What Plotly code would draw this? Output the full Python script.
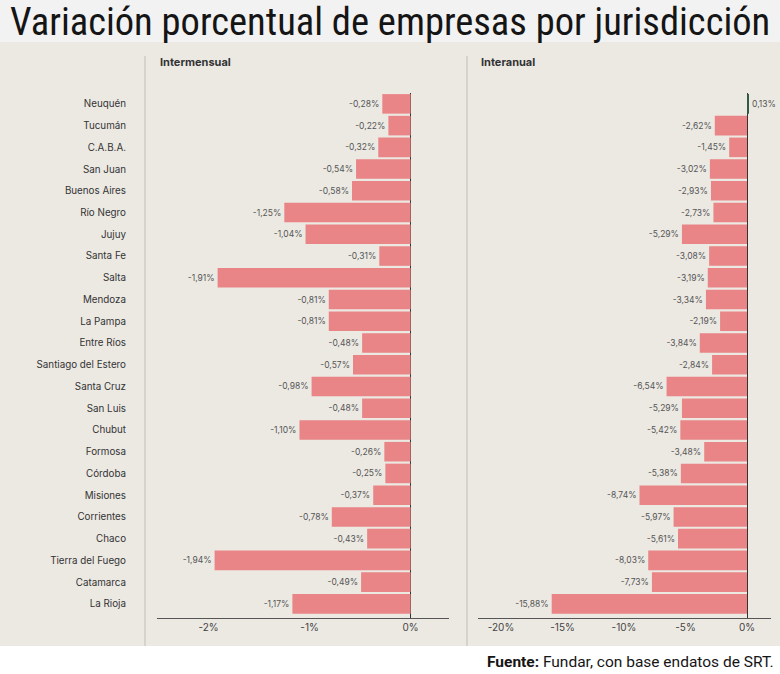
import plotly.graph_objects as go

# Datos
jurisdicciones = ["Neuquén", "Tucumán", "C.A.B.A.", "San Juan", "Buenos Aires", "Río Negro",
                  "Jujuy", "Santa Fe", "Salta", "Mendoza", "La Pampa", "Entre Ríos",
                  "Santiago del Estero", "Santa Cruz", "San Luis", "Chubut", "Formosa",
                  "Córdoba", "Misiones", "Corrientes", "Chaco", "Tierra del Fuego",
                  "Catamarca", "La Rioja"]
intermensual = [-0.28, -0.22, -0.32, -0.54, -0.58, -1.25, -1.04, -0.31, -1.91, -0.81, -0.81, -0.48,
                -0.57, -0.98, -0.48, -1.10, -0.26, -0.25, -0.37, -0.78, -0.43, -1.94, -0.49, -1.17]
interanual = [0.13, -2.62, -1.45, -3.02, -2.93, -2.73, -5.29, -3.08, -3.19, -3.34, -2.19, -3.84,
              -2.84, -6.54, -5.29, -5.42, -3.48, -5.38, -8.74, -5.97, -5.61, -8.03, -7.73, -15.88]
ticks_mensual = [-2, -1, 0]
ticks_anual = [-20, -15, -10, -5, 0]

W, H = 780, 674
ROSA = "#e98587"
VERDE = "#2f5a47"
FONDO = "#ece9e3"
FUENTE = "Inter, Roboto, sans-serif"
ESTRECHA = "Liberation Sans Narrow, Roboto Condensed, Arial Narrow, sans-serif"


def px_x(p):
    return p / W


def px_y(p):
    return 1 - p / H


def etiqueta(v):
    return f"{v:.2f}".replace(".", ",") + "%"


idx = list(range(len(jurisdicciones)))

fig = go.Figure()
for vals, xa, ya in [(intermensual, "x", "y"), (interanual, "x2", "y2")]:
    fig.add_trace(go.Bar(
        x=vals, y=idx, orientation="h", xaxis=xa, yaxis=ya,
        marker=dict(color=[ROSA if v < 0 else VERDE for v in vals], line=dict(width=0)),
        text=[etiqueta(v) for v in vals], textposition="outside",
        textfont=dict(size=8.5, color="#555", family=FUENTE),
        cliponaxis=False, showlegend=False, hoverinfo="skip",
    ))

ydom = [px_y(618), px_y(93)]
yrange = [23.65, -0.5]

fig.update_layout(
    width=W, height=H,
    margin=dict(l=0, r=0, t=0, b=0),
    paper_bgcolor="white", plot_bgcolor=FONDO,
    bargap=0.1,
    font=dict(family=FUENTE, color="#333"),
    xaxis=dict(domain=[px_x(157), px_x(449)], range=[-2.51, 0.38],
               tickvals=ticks_mensual, ticktext=[f"{t}%" for t in ticks_mensual],
               showgrid=False, showline=True, linecolor="#555", linewidth=1.2,
               zeroline=True, zerolinecolor="#333", zerolinewidth=1,
               ticks="", tickfont=dict(size=10, color="#444"), anchor="y", layer="above traces"),
    yaxis=dict(domain=ydom, range=yrange, tickvals=idx, ticktext=jurisdicciones,
               showgrid=False, zeroline=False, ticks="", ticklabelstandoff=30,
               tickfont=dict(size=9.8, color="#333"), anchor="x"),
    xaxis2=dict(domain=[px_x(478), px_x(771)], range=[-21.87, 1.95],
                tickvals=ticks_anual, ticktext=[f"{t}%" for t in ticks_anual],
                showgrid=False, showline=True, linecolor="#555", linewidth=1.2,
                zeroline=True, zerolinecolor="#333", zerolinewidth=1,
                ticks="", tickfont=dict(size=10, color="#444"), anchor="y2", layer="above traces"),
    yaxis2=dict(domain=ydom, range=yrange, showticklabels=False,
                showgrid=False, zeroline=False, anchor="x2"),
)

fig.update_layout(shapes=[
    dict(type="rect", xref="paper", yref="paper", x0=0, x1=1, y0=px_y(42), y1=1,
         fillcolor="#f2f2f2", line_width=0, layer="below"),
    dict(type="rect", xref="paper", yref="paper", x0=0, x1=1, y0=px_y(646), y1=px_y(42),
         fillcolor=FONDO, line_width=0, layer="below"),
    dict(type="line", xref="paper", yref="paper", x0=px_x(145), x1=px_x(145),
         y0=px_y(646), y1=px_y(56), line=dict(color="#cfcbc5", width=1.5)),
    dict(type="line", xref="paper", yref="paper", x0=px_x(467), x1=px_x(467),
         y0=px_y(646), y1=px_y(56), line=dict(color="#cfcbc5", width=1.5)),
])

fig.update_layout(annotations=[
    dict(text="Variación porcentual de empresas por jurisdicción", xref="paper", yref="paper",
         x=0.5, y=px_y(21), xanchor="center", yanchor="middle", showarrow=False,
         font=dict(family=ESTRECHA, size=38.5, color="#151515")),
    dict(text="<b>Intermensual</b>", xref="paper", yref="paper", x=px_x(158), y=px_y(62),
         xanchor="left", yanchor="middle", showarrow=False, font=dict(size=11, color="#333")),
    dict(text="<b>Interanual</b>", xref="paper", yref="paper", x=px_x(479), y=px_y(62),
         xanchor="left", yanchor="middle", showarrow=False, font=dict(size=11, color="#333")),
    dict(text="<b>Fuente:</b> Fundar, con base endatos de SRT.", xref="paper", yref="paper",
         x=px_x(776), y=px_y(662), xanchor="right", yanchor="middle", showarrow=False,
         font=dict(family="Roboto, sans-serif", size=15.5, color="#151515")),
])

# quitar el margen del body para que la figura ocupe toda la ventana
fig.write_html("out.html", config={"displayModeBar": False},
               post_script="document.body.style.margin='0';")
